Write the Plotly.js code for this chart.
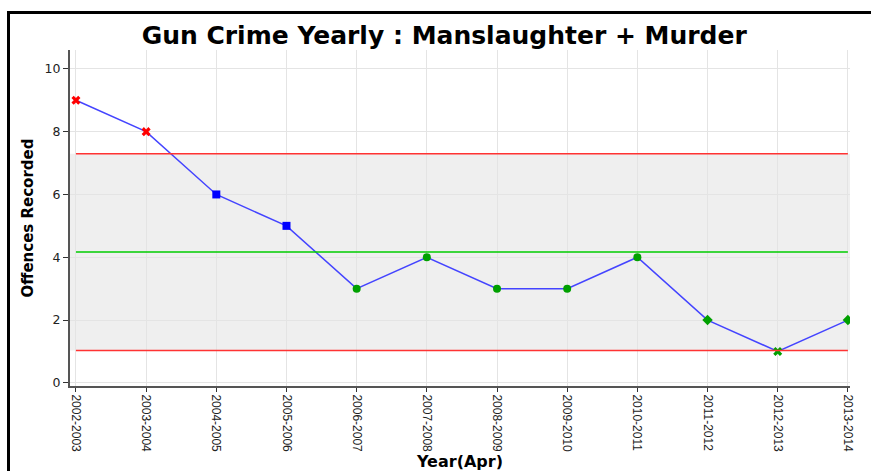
<!DOCTYPE html>
<html><head><meta charset="utf-8">
<script src="https://cdn.plot.ly/plotly-3.0.1.min.js"></script>
<style>
html,body{margin:0;padding:0;background:#fff;}
#wrap{position:relative;width:871px;height:471px;overflow:hidden;}
#chart{width:871px;height:471px;}
#frame{position:absolute;left:7px;top:11px;width:880px;height:480px;border-top:3px solid #000;border-left:3px solid #000;pointer-events:none;}
</style></head>
<body>
<div id="wrap"><div id="chart"></div><div id="frame"></div></div>
<script>
const years = ["2002-2003","2003-2004","2004-2005","2005-2006","2006-2007","2007-2008","2008-2009","2009-2010","2010-2011","2011-2012","2012-2013","2013-2014"];
const offences = [9,8,6,5,3,4,3,3,4,2,1,2];
const markerSymbols = ["x","x","square","square","circle","circle","circle","circle","circle","diamond","x","diamond"];
const markerColors = ["#ff0000","#ff0000","#0000ff","#0000ff","#00a000","#00a000","#00a000","#00a000","#00a000","#00a000","#00a000","#00a000"];
const meanLine = 4.17;
const upperLimit = 7.3;
const lowerLimit = 1.03;

const n = years.length;
const xl = -0.085, xr = n - 1 + 0.03;
const dv = 'DejaVu Sans, Verdana, sans-serif';
const lib = 'Liberation Sans, Arial, sans-serif';

const traces = [
  {x:years, y:offences, type:'scatter', mode:'lines+markers',
   line:{color:'#4444ff', width:1.5},
   marker:{symbol:markerSymbols, color:markerColors, size:8, line:{width:0}},
   hoverinfo:'x+y', showlegend:false}
];

const layout = {
  width:871, height:471,
  margin:{l:70, r:21, t:50, b:85},
  paper_bgcolor:'#fff', plot_bgcolor:'#fff',
  showlegend:false,
  title:{text:'Gun Crime Yearly : Manslaughter + Murder', x:0.51, xanchor:'center', y:0.925, yanchor:'middle',
         font:{family:dv, size:25, color:'#000', weight:700}},
  xaxis:{type:'category', range:[xl, xr], tickangle:90,
         showgrid:true, gridcolor:'#e4e4e4', gridwidth:1,
         showline:true, linecolor:'#555', linewidth:2,
         ticks:'outside', ticklen:4, tickcolor:'#333',
         tickfont:{family:lib, size:12, color:'#222'},
         title:{text:'Year(Apr)', standoff:6, font:{family:dv, size:16, color:'#000', weight:700}},
         zeroline:false, fixedrange:true},
  yaxis:{range:[-0.1, 10.6], tickvals:[0,2,4,6,8,10],
         showgrid:true, gridcolor:'#e4e4e4', gridwidth:1,
         showline:true, linecolor:'#555', linewidth:2,
         ticks:'outside', ticklen:5, tickcolor:'#333',
         tickfont:{family:dv, size:12.5, color:'#222'},
         title:{text:'Offences Recorded', standoff:7, font:{family:dv, size:15, color:'#000', weight:700}},
         zeroline:false, fixedrange:true},
  shapes:[
    {type:'rect', xref:'x', yref:'y', x0:xl, x1:xr, y0:lowerLimit, y1:upperLimit, fillcolor:'#efefef', line:{width:0}, layer:'below'},
    {type:'line', xref:'x', yref:'y', x0:0, x1:n-1, y0:upperLimit, y1:upperLimit, line:{color:'#ff3333', width:1.5}},
    {type:'line', xref:'x', yref:'y', x0:0, x1:n-1, y0:lowerLimit, y1:lowerLimit, line:{color:'#ff3333', width:1.5}},
    {type:'line', xref:'x', yref:'y', x0:0, x1:n-1, y0:meanLine, y1:meanLine, line:{color:'#00cc00', width:1.5}}
  ]
};

Plotly.newPlot('chart', traces, layout, {displayModeBar:false, staticPlot:true});
</script>
</body></html>
